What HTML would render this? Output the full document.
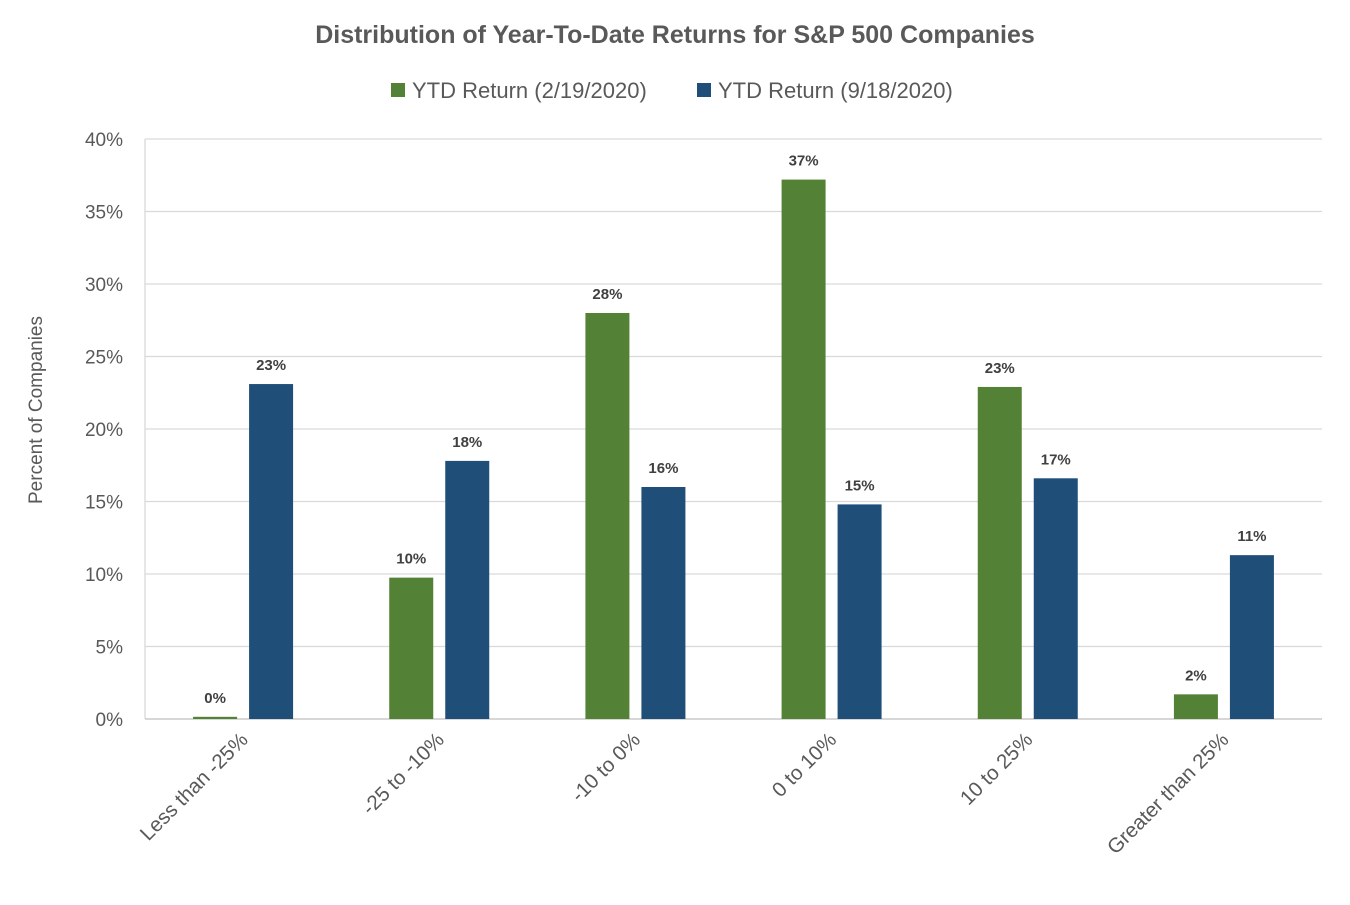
<!DOCTYPE html>
<html><head><meta charset="utf-8"><style>
body{margin:0;background:#fff;font-family:"Liberation Sans",sans-serif;}
</style></head><body>
<svg id="chart" width="1350" height="900" style="font-family:'Liberation Sans',sans-serif">
<text x="675" y="43" text-anchor="middle" font-size="25" font-weight="bold" fill="#595959">Distribution of Year-To-Date Returns for S&amp;P 500 Companies</text>
<g>
<rect x="391" y="83" width="14" height="14" fill="#538135"/>
<text x="412" y="98" font-size="22" fill="#595959">YTD Return (2/19/2020)</text>
<rect x="697" y="83" width="14" height="14" fill="#1f4e79"/>
<text x="718" y="98" font-size="22" fill="#595959">YTD Return (9/18/2020)</text>
</g>
<text transform="translate(42,410) rotate(-90)" text-anchor="middle" font-size="19" fill="#595959">Percent of Companies</text>
<g id="grid"></g><g id="bars"></g>
</svg>
<script>
const categories=["Less than -25%","-25 to -10%","-10 to 0%","0 to 10%","10 to 25%","Greater than 25%"];
const febValues=[0.15,9.75,28.0,37.2,22.9,1.7];
const sepValues=[23.1,17.8,16.0,14.8,16.6,11.3];
const febLabels=["0%","10%","28%","37%","23%","2%"];
const sepLabels=["23%","18%","16%","15%","17%","11%"];
const yTicks=[0,5,10,15,20,25,30,35,40];
const NS="http://www.w3.org/2000/svg";
const x0=145,x1=1322,yb=719,yt=139,ymax=40;
const y=v=>yb-(yb-yt)*v/ymax;
const cw=(x1-x0)/categories.length;
const cx=i=>x0+cw*(i+0.5);
function mk(tag,attrs,parent){const e=document.createElementNS(NS,tag);for(const k in attrs)e.setAttribute(k,attrs[k]);parent.appendChild(e);return e;}
const grid=document.getElementById('grid'),bars=document.getElementById('bars');
yTicks.forEach(t=>{
 const l=mk('line',{x1:x0,x2:x1,y1:y(t),y2:y(t),stroke:t===0?'#bfbfbf':'#d9d9d9','stroke-width':1.3},grid);
 
 
 const tx=mk('text',{x:123,y:y(t)+7,'text-anchor':'end','font-size':19,fill:'#595959'},grid);
 tx.textContent=t+'%';
 
 
});
mk('line',{x1:x0,x2:x0,y1:yt,y2:yb,stroke:'#d9d9d9','stroke-width':1.3},grid);
const bw=44,gap=12;
categories.forEach((c,i)=>{
 const series=[[febValues[i],'#538135',febLabels[i],-1,'feb'],[sepValues[i],'#1f4e79',sepLabels[i],1,'sep']];
 series.forEach(([v,col,lab,s,nm])=>{
  const bx=cx(i)+s*(gap/2+bw/2)-bw/2;
  const r=mk('rect',{x:bx,y:y(v),width:bw,height:yb-y(v),fill:col},bars);
  
  
  const t=mk('text',{x:bx+bw/2,y:y(v)-14,'text-anchor':'middle','font-size':15,'font-weight':'bold',fill:'#404040'},bars);
  t.textContent=lab;
  
  
 });
 const xl=mk('text',{transform:`translate(${cx(i)+6},${741}) rotate(-45)`,'text-anchor':'end','font-size':20.5,fill:'#595959'},bars);
 xl.textContent=c;
 
 
});
</script>
</body></html>
